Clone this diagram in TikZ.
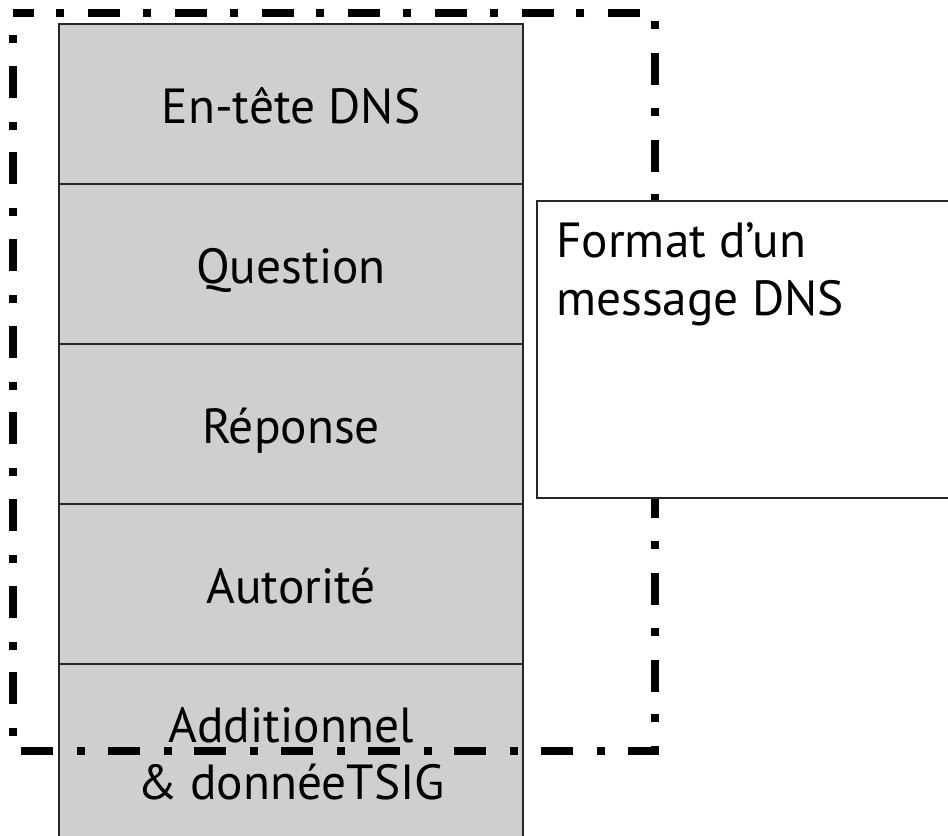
\documentclass[tikz,border=0pt]{standalone}
\usepackage{fontspec}
\setmainfont{PT Sans}
\definecolor{fieldgray}{RGB}{207,207,207}
\begin{document}
\begin{tikzpicture}[x=0.75pt,y=-0.75pt,
  field/.style={draw=black!85, line width=1.5pt, fill=fieldgray,
    minimum width=348pt, minimum height=120pt, inner sep=0pt,
    font=\fontsize{37}{42.75}\selectfont, align=center,
    text height=30pt, text depth=1.5pt},
  frame/.style={line width=6pt,
    dash pattern=on 24pt off 18pt on 6pt off 17pt, dash phase=25.5pt},
  notebox/.style={draw=black!85, line width=1.5pt, fill=white,
    minimum width=318pt, minimum height=222.75pt, inner sep=0pt},
  notetext/.style={font=\fontsize{37}{43.5}\selectfont, align=left,
    inner sep=0pt}]
\useasboundingbox (0,0) rectangle (948,835);

% message sections, stacked from top to bottom
\node[field] (hdr) at (291,104) {En-tête DNS};
\node[field] (qst) at (291,264) {Question};
\node[field] (ans) at (291,424) {Réponse};
\node[field] (aut) at (291,584) {Autorité};
\node[field, minimum height=132pt, text height=, text depth=] (add) at (291,752) {};
\node[font=\fontsize{37}{42.75}\selectfont, align=center, inner sep=0pt,
  anchor=north] (addlbl) at (291,707) {Additionnel\\\& donnéeTSIG};

% dash-dot frame around the signed part of the message
\coordinate (fnw) at (13,13);
\coordinate (fse) at (655,751);
\draw[frame] (fnw) rectangle (fse);

% caption box
\node[notebox, anchor=north west] (note) at (536,200) {};
\node[notetext, anchor=north west] (notelbl) at ([shift={(20,22)}]note.north west)
  {Format d’un\\message DNS};
\end{tikzpicture}
\end{document}
